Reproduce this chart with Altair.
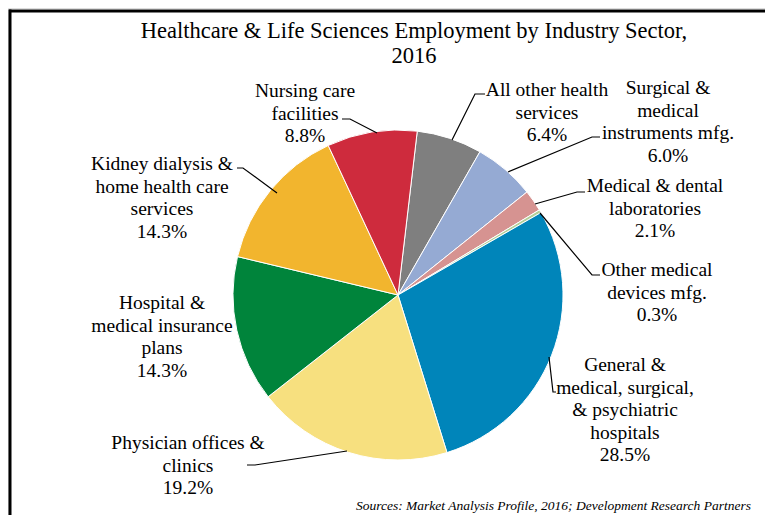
import math
import altair as alt
import pandas as pd

# ---- data ----
sectors = [
    "All other health services",
    "Surgical & medical instruments mfg.",
    "Medical & dental laboratories",
    "Other medical devices mfg.",
    "General & medical, surgical, & psychiatric hospitals",
    "Physician offices & clinics",
    "Hospital & medical insurance plans",
    "Kidney dialysis & home health care services",
    "Nursing care facilities",
]
shares = [6.4, 6.0, 2.1, 0.3, 28.5, 19.2, 14.3, 14.3, 8.8]
label_lines = [
    ["All other health", "services", "6.4%"],
    ["Surgical &", "medical", "instruments mfg.", "6.0%"],
    ["Medical & dental", "laboratories", "2.1%"],
    ["Other medical", "devices mfg.", "0.3%"],
    ["General &", "medical, surgical,", "& psychiatric", "hospitals", "28.5%"],
    ["Physician offices &", "clinics", "19.2%"],
    ["Hospital &", "medical insurance", "plans", "14.3%"],
    ["Kidney dialysis &", "home health care", "services", "14.3%"],
    ["Nursing care", "facilities", "8.8%"],
]
colors = ["#7F7F7F", "#95AAD3", "#D69391", "#B3CF98", "#0085BA",
          "#F7E07F", "#00843B", "#F2B52E", "#CE2B3D"]

title_lines = ["Healthcare & Life Sciences Employment by Industry Sector,", "2016"]
source_text = "Sources: Market Analysis Profile, 2016; Development Research Partners"

# ---- layout (chart pixel coords = page coords - 8) ----
OFF = 8
W, H = 757, 507
CX, CY, R = 398 - OFF, 295 - OFF, 165
START = math.radians(6.7)
FONT = "Liberation Serif"
LINE_H = 22.5

label_pos = [  # center x, first-line center y (page coords)
    (547, 90), (668, 88), (655, 186), (657, 270), (625, 365),
    (188, 443), (162, 303), (162, 164), (305, 91),
]
leaders = [
    [(485, 94), (475, 94), (452, 140)],
    [(600, 137), (592, 137), (508, 172)],
    [(585, 192), (577, 192), (535, 204)],
    [(540, 213), (592, 275), (600, 275)],
    [(549, 357), (553, 392), (556, 392)],
    [(247, 465), (255, 465), (347, 451)],
    [],
    [(237, 168), (243, 168), (277, 193)],
    [(342, 119), (350, 119), (377, 133)],
]

pie_df = pd.DataFrame({"sector": sectors, "share": shares, "idx": range(len(sectors))})

text_rows = []
for i, lines in enumerate(label_lines):
    cx, y0 = label_pos[i]
    for j, t in enumerate(lines):
        text_rows.append({"x": cx - OFF, "y": y0 - OFF + j * LINE_H, "t": t})
text_df = pd.DataFrame(text_rows)

line_rows = []
for i, pts in enumerate(leaders):
    for k, (x, y) in enumerate(pts):
        line_rows.append({"g": i, "k": k, "x": x - OFF, "y": y - OFF})
line_df = pd.DataFrame(line_rows)

title_df = pd.DataFrame({"x": [414 - OFF, 414 - OFF], "y": [31 - OFF, 56 - OFF], "t": title_lines})
src_df = pd.DataFrame({"x": [356 - OFF], "y": [506 - OFF], "t": [source_text]})

pie = alt.Chart(pie_df).mark_arc(outerRadius=R, stroke="white", strokeWidth=1).encode(
    theta=alt.Theta("share:Q", stack=True, scale=alt.Scale(range=[START, START + 2 * math.pi])),
    order=alt.Order("idx:Q"),
    color=alt.Color("sector:N", scale=alt.Scale(domain=sectors, range=colors), legend=None),
    x=alt.value(CX),
    y=alt.value(CY),
)

leader = alt.Chart(line_df).mark_line(color="black", strokeWidth=1.2).encode(
    x=alt.X("x:Q", scale=None, axis=None),
    y=alt.Y("y:Q", scale=None, axis=None),
    detail="g:N",
    order="k:Q",
)

labels = alt.Chart(text_df).mark_text(font=FONT, fontSize=19.5, color="black",
                                      align="center", baseline="middle").encode(
    x=alt.X("x:Q", scale=None, axis=None),
    y=alt.Y("y:Q", scale=None, axis=None),
    text="t:N",
)

title = alt.Chart(title_df).mark_text(font=FONT, fontSize=22.5, color="black",
                                      align="center", baseline="middle").encode(
    x=alt.X("x:Q", scale=None, axis=None),
    y=alt.Y("y:Q", scale=None, axis=None),
    text="t:N",
)

source = alt.Chart(src_df).mark_text(font=FONT, fontSize=13.5, fontStyle="italic", color="black",
                                     align="left", baseline="middle").encode(
    x=alt.X("x:Q", scale=None, axis=None),
    y=alt.Y("y:Q", scale=None, axis=None),
    text="t:N",
)

frame_top = alt.Chart(pd.DataFrame({"a": [0]})).mark_rule(color="black", strokeWidth=3).encode(
    x=alt.value(1), x2=alt.value(W), y=alt.value(11 - OFF))
frame_left = alt.Chart(pd.DataFrame({"a": [0]})).mark_rule(color="black", strokeWidth=3).encode(
    x=alt.value(10 - OFF), y=alt.value(11 - OFF - 1.5), y2=alt.value(H))

chart = alt.layer(pie, leader, labels, title, source, frame_top, frame_left).properties(
    width=W, height=H, autosize=alt.AutoSizeParams(type="none"), padding=0,
).configure_view(stroke=None).configure(background="white")

chart.save("out.html", embed_options={"renderer": "svg", "actions": False})
